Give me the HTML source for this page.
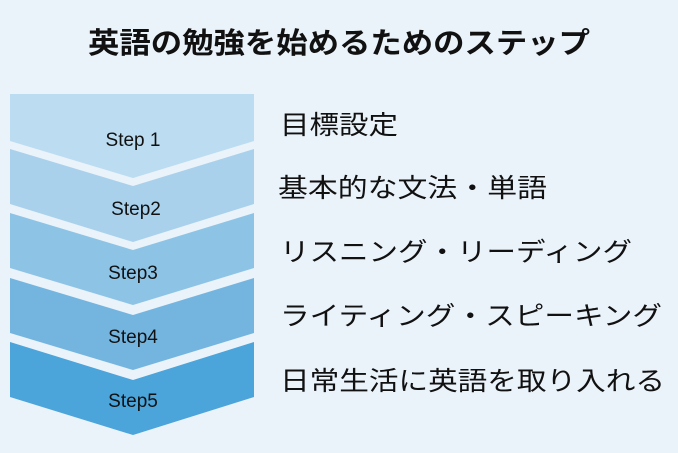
<!DOCTYPE html>
<html><head><meta charset="utf-8"><style>
html,body{margin:0;padding:0;background:#eaf2fa;}
svg{display:block}
</style></head><body>
<svg width="678" height="453" viewBox="0 0 678 453" xmlns="http://www.w3.org/2000/svg">
<rect width="678" height="453" fill="#eaf2fa"/>
<text x="339" y="53" text-anchor="middle" font-family="Liberation Sans, Noto Sans CJK JP, sans-serif" font-weight="bold" font-size="29" fill="#111" textLength="502" lengthAdjust="spacingAndGlyphs">英語の勉強を始めるためのステップ</text>
<polygon points="10,94 254,94 254,141 133,178 10,141" fill="#bbdcf1"/>
<polygon points="10,149 133,186 254,149 254,204 133,242 10,204" fill="#a9d1ec"/>
<polygon points="10,213 133,250 254,213 254,268 133,305 10,268" fill="#8dc4e6"/>
<polygon points="10,278 133,315 254,278 254,333 133,370 10,333" fill="#74b5e0"/>
<polygon points="10,342 133,380 254,342 254,397 133,435 10,397" fill="#4ba4da"/>
<g font-family="Liberation Sans, DejaVu Sans, sans-serif" font-size="19" fill="#111" text-anchor="middle">
<text x="133" y="146">Step 1</text>
<text x="136" y="215">Step2</text>
<text x="133" y="279">Step3</text>
<text x="133" y="343">Step4</text>
<text x="133" y="407">Step5</text>
</g>
<g font-family="Liberation Sans, Noto Sans CJK JP, sans-serif" font-size="26" fill="#111">
<text x="280" y="134" textLength="118" lengthAdjust="spacingAndGlyphs">目標設定</text>
<text x="278" y="197" textLength="269" lengthAdjust="spacingAndGlyphs">基本的な文法・単語</text>
<text x="280" y="261" textLength="352" lengthAdjust="spacingAndGlyphs">リスニング・リーディング</text>
<text x="280" y="325" textLength="382" lengthAdjust="spacingAndGlyphs">ライティング・スピーキング</text>
<text x="280" y="390" textLength="385" lengthAdjust="spacingAndGlyphs">日常生活に英語を取り入れる</text>
</g>
</svg>
</body></html>
